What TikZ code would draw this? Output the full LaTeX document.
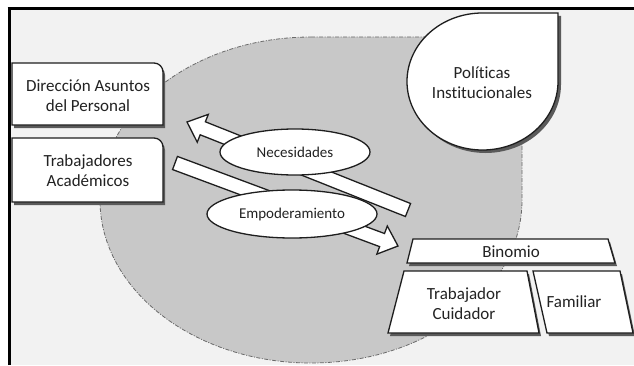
\documentclass[tikz,border=0pt]{standalone}
\usepackage{fontspec}
\setmainfont{Carlito}[Ligatures=NoCommon]
\usetikzlibrary{calc,shapes.geometric}
\definecolor{panel}{HTML}{F2F2F2}
\definecolor{region}{HTML}{C8C8C8}
\definecolor{regionline}{HTML}{6A6A6A}
\definecolor{shadowc}{HTML}{5A5A5A}
\definecolor{outl}{HTML}{1E1E1E}
\definecolor{txt}{HTML}{222222}
\tikzset{
  shapebox/.style={fill=white, draw=outl, line width=1.3pt, line join=miter},
  shadowbox/.style={fill=shadowc},
  lbl/.style={text=txt, align=center, inner sep=0pt, font=\fontsize{17}{20}\selectfont},
  ellip/.style={ellipse, fill=white, draw=outl, line width=1.3pt, inner sep=0pt, text=txt, font=\fontsize{15}{18}\selectfont},
  dashdot/.style={dash pattern=on 4pt off 1.5pt on 1pt off 1.5pt}
}
\newcommand\blockarrow[2]{%
  \coordinate (hb) at ($(#2)!17pt!(#1)$);
  \draw[shapebox]
    ($(#1)!7pt!90:(#2)$) -- ($(hb)!7pt!90:(#2)$) -- ($(hb)!15pt!90:(#2)$) -- (#2)
    -- ($(hb)!15pt!-90:(#2)$) -- ($(hb)!7pt!-90:(#2)$) -- ($(#1)!7pt!-90:(#2)$) -- cycle;}
\begin{document}
\begin{tikzpicture}[x=1pt,y=1pt]
\useasboundingbox (0,0) rectangle (634,365);
\fill[white] (0,0) rectangle (634,365);
\fill[panel] (9,0) rectangle (634,356);
% large gray region (teardrop)
\path[fill=region, draw=regionline, line width=0.8pt, dashdot]
  (311,328) -- (522,328) -- (522,165) arc[start angle=0,end angle=-270,x radius=211,y radius=163] -- cycle;
% frame
\draw[line width=3pt] (7.5,356) -- (634,356);
\draw[line width=3pt] (9,0) -- (9,357.5);
% block arrows
\coordinate (na) at (408,155);
\coordinate (nb) at (187,243);
\coordinate (ea) at (175,202);
\coordinate (eb) at (398,119);
\blockarrow{na}{nb}
\blockarrow{ea}{eb}
% ellipses
\node[ellip, minimum width=150pt, minimum height=46pt] (nec) at (295,213) {Necesidades};
\node[ellip, minimum width=170pt, minimum height=48pt] (emp) at (292,151) {Empoderamiento};
% Direccion box
\fill[shadowbox] (14,237) -- (14,299) -- (156,299) arc[start angle=90,end angle=0,radius=9] -- (165,237) -- cycle;
\draw[shapebox] (12,240) -- (12,302) -- (154,302) arc[start angle=90,end angle=0,radius=9] -- (163,240) -- cycle;
\node[lbl] (dir) at (88,269) {Dirección Asuntos\\del Personal};
% Trabajadores box
\fill[shadowbox] (14,160) -- (14,224) -- (156,224) arc[start angle=90,end angle=0,radius=9] -- (165,160) -- cycle;
\draw[shapebox] (12,163) -- (12,227) -- (154,227) arc[start angle=90,end angle=0,radius=9] -- (163,163) -- cycle;
\node[lbl] (trab) at (88,194) {Trabajadores\\Académicos};
% Politicas teardrop
\fill[shadowbox] (485.5,349) -- (561,349) -- (561,280.5) arc[start angle=0,end angle=-270,x radius=75.5,y radius=68.5] -- cycle;
\draw[shapebox] (482.5,352) -- (558,352) -- (558,283.5) arc[start angle=0,end angle=-270,x radius=75.5,y radius=68.5] -- cycle;
\node[lbl] (pol) at (482,282) {Políticas\\Institucionales};
% Binomio
\fill[shadowbox] (415,123) -- (610,123) -- (617,99) -- (409,99) -- cycle;
\draw[shapebox] (413,126) -- (608,126) -- (615,102) -- (407,102) -- cycle;
\node[lbl] (bin) at (511,113) {Binomio};
% Trabajador Cuidador
\fill[shadowbox] (406,91) -- (529,91) -- (541,29) -- (390,29) -- cycle;
\draw[shapebox] (404,94) -- (527,94) -- (539,32) -- (388,32) -- cycle;
\node[lbl] (cuid) at (464,61) {Trabajador\\Cuidador};
% Familiar
\fill[shadowbox] (535,91) -- (622,91) -- (635,29) -- (549,29) -- cycle;
\draw[shapebox] (533,94) -- (620,94) -- (633,32) -- (547,32) -- cycle;
\node[lbl] (fam) at (574,63) {Familiar};
\end{tikzpicture}
\end{document}
